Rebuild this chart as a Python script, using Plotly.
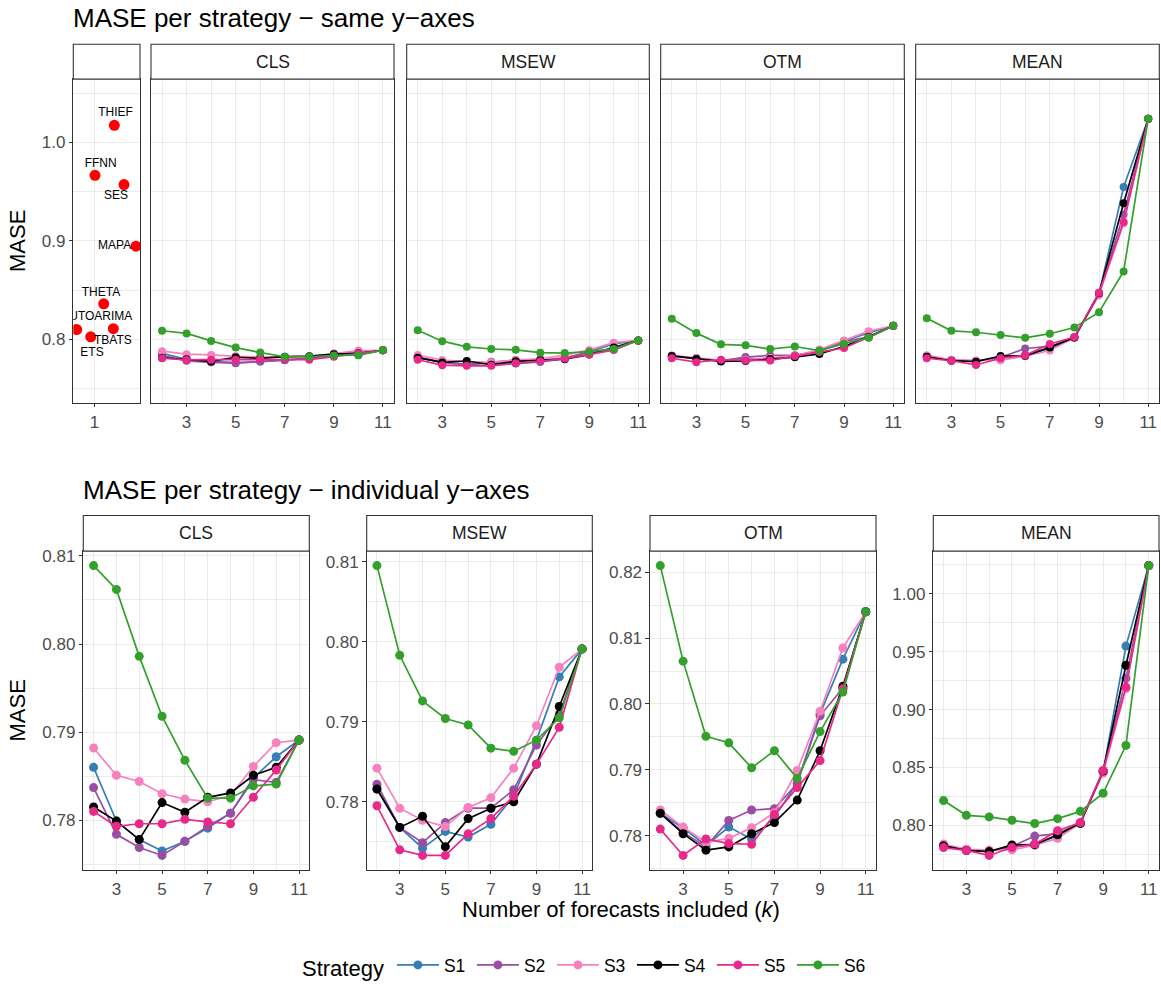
import plotly.graph_objects as go

# ---------------- data ----------------
k_values = [2, 3, 4, 5, 6, 7, 8, 9, 10, 11]
strategies = ["S1", "S2", "S3", "S4", "S5", "S6"]
methods = ["CLS", "MSEW", "OTM", "MEAN"]

cls_values = [
    [0.7860, 0.7799, 0.7778, 0.7765, 0.7776, 0.7791, 0.7808, 0.7848, 0.7872, 0.7891],
    [0.7837, 0.7784, 0.7769, 0.7760, 0.7776, 0.7793, 0.7808, 0.7846, 0.7843, 0.7891],
    [0.7882, 0.7851, 0.7844, 0.7830, 0.7824, 0.7821, 0.7828, 0.7861, 0.7888, 0.7891],
    [0.7815, 0.7799, 0.7778, 0.7820, 0.7809, 0.7826, 0.7831, 0.7851, 0.7860, 0.7891],
    [0.7810, 0.7793, 0.7796, 0.7796, 0.7801, 0.7798, 0.7796, 0.7826, 0.7857, 0.7891],
    [0.8089, 0.8062, 0.7986, 0.7918, 0.7868, 0.7825, 0.7825, 0.7839, 0.7841, 0.7891],
]
msew_values = [
    [0.7816, 0.7768, 0.7742, 0.7763, 0.7756, 0.7772, 0.7807, 0.7877, 0.7956, 0.7991],
    [0.7822, 0.7768, 0.7749, 0.7774, 0.7792, 0.7792, 0.7815, 0.7871, 0.7909, 0.7991],
    [0.7842, 0.7792, 0.7777, 0.7769, 0.7793, 0.7805, 0.7842, 0.7895, 0.7968, 0.7991],
    [0.7816, 0.7768, 0.7782, 0.7744, 0.7779, 0.7792, 0.7800, 0.7847, 0.7919, 0.7991],
    [0.7795, 0.7740, 0.7733, 0.7733, 0.7760, 0.7779, 0.7807, 0.7847, 0.7893, 0.7991],
    [0.8095, 0.7983, 0.7926, 0.7904, 0.7896, 0.7867, 0.7863, 0.7877, 0.7905, 0.7991],
]
otm_values = [
    [0.7834, 0.7812, 0.7785, 0.7813, 0.7795, 0.7828, 0.7880, 0.7985, 0.8068, 0.8140],
    [0.7835, 0.7805, 0.7783, 0.7823, 0.7839, 0.7841, 0.7879, 0.7982, 0.8024, 0.8140],
    [0.7839, 0.7813, 0.7790, 0.7796, 0.7812, 0.7835, 0.7899, 0.7989, 0.8085, 0.8140],
    [0.7834, 0.7803, 0.7778, 0.7783, 0.7803, 0.7820, 0.7854, 0.7929, 0.8027, 0.8140],
    [0.7810, 0.7770, 0.7795, 0.7788, 0.7787, 0.7832, 0.7873, 0.7914, 0.8023, 0.8140],
    [0.8210, 0.8065, 0.7951, 0.7941, 0.7903, 0.7929, 0.7887, 0.7958, 0.8018, 0.8140],
]
mean_values = [
    [0.7825, 0.7790, 0.7780, 0.7815, 0.7840, 0.7910, 0.8020, 0.8465, 0.9547, 1.0241],
    [0.7830, 0.7790, 0.7780, 0.7820, 0.7909, 0.7930, 0.8020, 0.8465, 0.9269, 1.0241],
    [0.7841, 0.7795, 0.7788, 0.7790, 0.7830, 0.7889, 0.8020, 0.8450, 0.9180, 1.0241],
    [0.7825, 0.7785, 0.7775, 0.7833, 0.7835, 0.7920, 0.8020, 0.8470, 0.9382, 1.0241],
    [0.7810, 0.7785, 0.7742, 0.7810, 0.7840, 0.7955, 0.8025, 0.8475, 0.9193, 1.0241],
    [0.8215, 0.8088, 0.8074, 0.8045, 0.8017, 0.8059, 0.8122, 0.8278, 0.8691, 1.0241],
]

# individual forecast methods (jittered x around 1)
ind_names = ["THIEF", "FFNN", "SES", "MAPA", "THETA", "AUTOARIMA", "ETS", "TBATS"]
ind_mase = [1.0174, 0.9666, 0.9572, 0.8947, 0.8362, 0.8101, 0.8027, 0.8110]
ind_x = [1.261, 1.006, 1.389, 1.547, 1.121, 0.765, 0.950, 1.248]
label_x = [1.277, 1.081, 1.283, 1.266, 1.085, 1.030, 0.967, 1.243]
label_y = [1.0294, 0.9786, 0.9455, 0.8950, 0.8469, 0.8232, 0.7867, 0.7987]

colors = ["#377EB8", "#984EA3", "#F781BF", "#000000", "#E7298A", "#33A02C"]

# ---------------- layout helpers ----------------
W, H = 1161, 986
FONT = "Liberation Sans, Arial, Helvetica, sans-serif"
TICK_COLOR = "#4D4D4D"
BORDER = "#333333"
GRID = "#EBEBEB"


def px_x(a, b):
    return [a / W, b / W]


def px_y(top, bottom):
    return [1 - bottom / H, 1 - top / H]


top_panels = [(151, 394), (406.7, 649.3), (660.7, 904.3), (915.7, 1159.3)]
bot_panels = [(83.3, 309.3), (366.7, 592.3), (650, 876), (933.3, 1159)]
top_y = (76, 403.3)
top_strip = (40.7, 76)
bot_y = (553.3, 875.7)
bot_strip = (517.3, 553.3)

fig = go.Figure()
layout = {}
shapes = []
annotations = []

axis_common = dict(
    showline=True, mirror=True, linecolor=BORDER, linewidth=1.1,
    showgrid=True, gridcolor=GRID, gridwidth=1.1, zeroline=False,
    ticks="outside", ticklen=3.5, tickcolor=BORDER, tickwidth=1,
    tickfont=dict(family=FONT, size=17, color=TICK_COLOR),
)

x_range = [1.55, 11.45]


def xaxis_k(domain, anchor):
    d = dict(axis_common)
    d.update(domain=domain, anchor=anchor, range=x_range, tick0=1, dtick=2,
             minor=dict(dtick=1, tick0=0, showgrid=True, gridcolor=GRID, gridwidth=0.6, ticks=""))
    return d


def strip(x0, x1, y0, y1, text):
    shapes.append(dict(type="rect", xref="paper", yref="paper",
                       x0=x0 / W, x1=x1 / W, y0=1 - y1 / H, y1=1 - y0 / H,
                       fillcolor="white", line=dict(color=BORDER, width=1.1), layer="above"))
    if text:
        annotations.append(dict(x=(x0 + x1) / 2 / W, y=1 - (y0 + y1) / 2 / H, xref="paper", yref="paper",
                                text=text, showarrow=False, xanchor="center", yanchor="middle",
                                font=dict(family=FONT, size=17.5, color="#1A1A1A")))


# ----- top-left panel: individual methods -----
d = dict(axis_common)
d.update(domain=px_x(73.3, 140), anchor="y", range=[0.72, 1.6], tickvals=[1], ticktext=["1"])
layout["xaxis"] = d
top_yrange = [0.7358, 1.0642]
d = dict(axis_common)
d.update(domain=px_y(*top_y), anchor="x", range=top_yrange, tick0=0.8, dtick=0.1, tickformat=".1f",
         minor=dict(dtick=0.05, tick0=0.75, showgrid=True, gridcolor=GRID, gridwidth=0.6, ticks=""))
layout["yaxis"] = d
strip(73.3, 140, *top_strip, "")

fig.add_trace(go.Scatter(x=ind_x, y=ind_mase, mode="markers", xaxis="x", yaxis="y",
                         marker=dict(color="#FF0000", size=11), showlegend=False, hoverinfo="skip"))
fig.add_trace(go.Scatter(x=label_x, y=label_y, mode="text", text=ind_names, xaxis="x", yaxis="y",
                         textposition="middle center", cliponaxis=True,
                         textfont=dict(family=FONT, size=12, color="#000000"),
                         showlegend=False, hoverinfo="skip"))

all_values = [cls_values, msew_values, otm_values, mean_values]

# ----- top row: same y-axes -----
for i, (m, vals) in enumerate(zip(methods, all_values)):
    n = i + 2
    xa, ya = f"x{n}", f"y{n}"
    layout[f"xaxis{n}"] = xaxis_k(px_x(*top_panels[i]), ya)
    d = dict(axis_common)
    d.update(domain=px_y(*top_y), anchor=xa, range=top_yrange, tick0=0.8, dtick=0.1,
             showticklabels=False, ticks="",
             minor=dict(dtick=0.05, tick0=0.75, showgrid=True, gridcolor=GRID, gridwidth=0.6, ticks=""))
    layout[f"yaxis{n}"] = d
    strip(top_panels[i][0], top_panels[i][1], *top_strip, m)
    for s, c, v in zip(strategies, colors, vals):
        fig.add_trace(go.Scatter(x=k_values, y=v, mode="lines+markers", xaxis=xa, yaxis=ya,
                                 line=dict(color=c, width=1.7), marker=dict(color=c, size=8),
                                 name=s, legendgroup=s, showlegend=False))

# ----- bottom row: individual y-axes -----
bot_dticks = [0.01, 0.01, 0.01, 0.05]
for i, (m, vals) in enumerate(zip(methods, all_values)):
    n = i + 6
    xa, ya = f"x{n}", f"y{n}"
    layout[f"xaxis{n}"] = xaxis_k(px_x(*bot_panels[i]), ya)
    flat = [v for row in vals for v in row]
    lo, hi = min(flat), max(flat)
    pad = (hi - lo) * 0.05
    dt = bot_dticks[i]
    d = dict(axis_common)
    d.update(domain=px_y(*bot_y), anchor=xa, range=[lo - pad, hi + pad], tick0=0, dtick=dt,
             tickformat=".2f",
             minor=dict(dtick=dt / 2, tick0=0, showgrid=True, gridcolor=GRID, gridwidth=0.6, ticks=""))
    layout[f"yaxis{n}"] = d
    strip(bot_panels[i][0], bot_panels[i][1], *bot_strip, m)
    for s, c, v in zip(strategies, colors, vals):
        fig.add_trace(go.Scatter(x=k_values, y=v, mode="lines+markers", xaxis=xa, yaxis=ya,
                                 line=dict(color=c, width=1.7), marker=dict(color=c, size=9),
                                 name=s, legendgroup=s, showlegend=(i == 0)))

# ----- titles -----
annotations.append(dict(x=71 / W, y=1 - 14 / H, xref="paper", yref="paper",
                        text="MASE per strategy \u2212 same y\u2212axes", showarrow=False,
                        xanchor="left", yanchor="middle",
                        font=dict(family=FONT, size=26, color="#000000")))
annotations.append(dict(x=81 / W, y=1 - 491 / H, xref="paper", yref="paper",
                        text="MASE per strategy \u2212 individual y\u2212axes", showarrow=False,
                        xanchor="left", yanchor="middle",
                        font=dict(family=FONT, size=26, color="#000000")))
for yc in [(top_y[0] + top_y[1]) / 2, (bot_y[0] + bot_y[1]) / 2]:
    annotations.append(dict(x=18 / W, y=1 - yc / H, xref="paper", yref="paper",
                            text="MASE", showarrow=False, textangle=-90,
                            xanchor="center", yanchor="middle",
                            font=dict(family=FONT, size=22, color="#000000")))
annotations.append(dict(x=621 / W, y=1 - 916 / H, xref="paper", yref="paper",
                        text="Number of forecasts included (<i>k</i>)", showarrow=False,
                        xanchor="center", yanchor="middle",
                        font=dict(family=FONT, size=22, color="#000000")))

fig.update_layout(
    **layout,
    width=W, height=H,
    margin=dict(l=0, r=0, t=0, b=0),
    paper_bgcolor="white", plot_bgcolor="white",
    shapes=shapes, annotations=annotations,
    showlegend=True,
    legend=dict(orientation="h", x=300 / W, xanchor="left", y=1 - 954 / H, yanchor="top",
                title=dict(text="Strategy", font=dict(family=FONT, size=22, color="#000000"), side="left"),
                font=dict(family=FONT, size=17.5, color="#000000"),
                itemwidth=42, entrywidth=23, entrywidthmode="pixels",
                bgcolor="rgba(0,0,0,0)"),
    font=dict(family=FONT),
)

fig.write_html("out.html", config={"displayModeBar": False},
               post_script="document.body.style.margin='0px';")
